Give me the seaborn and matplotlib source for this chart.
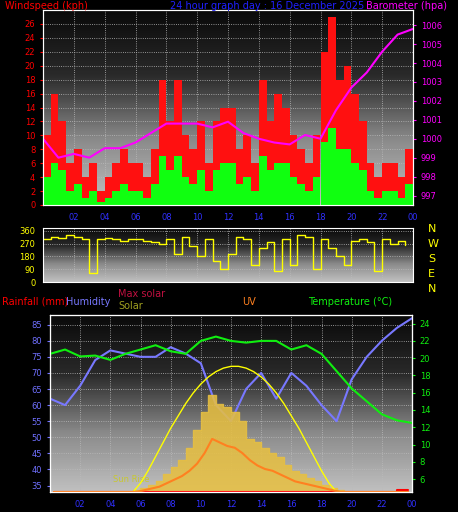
import numpy as np
import matplotlib
matplotlib.use("Agg")
import matplotlib.pyplot as plt
import seaborn as sns
from matplotlib.colors import LinearSegmentedColormap

sns.set_style("dark")
plt.rcParams['font.family'] = ['DejaVu Sans']

half_hours = [i * 0.5 for i in range(48)]
gust = [10,16,12,6,8,4,6,2,4,6,8,6,6,4,8,18,12,18,10,8,12,6,12,14,
        14,8,10,6,18,12,16,14,10,8,6,10,22,27,18,20,16,12,6,4,6,6,4,8]
avg = [4,6,5,2,3,1,2,0.5,1,2,3,2,2,1,3,7,5,7,4,3,5,2,5,6,
       6,3,4,2,7,5,6,6,4,3,2,4,9,11,8,8,6,5,2,1,2,2,1,3]
hours = list(range(25))
baro = [1000.0,999.0,999.2,999.0,999.5,999.5,999.8,1000.3,1000.8,1000.8,1000.8,1000.6,
        1000.9,1000.3,1000.0,999.8,999.7,1000.2,1000.0,1001.5,1002.7,1003.5,1004.6,1005.5,1005.8]
direction = [300,320,310,330,320,300,60,300,310,300,290,300,300,290,280,270,300,200,320,250,
             180,300,150,90,200,320,300,120,240,280,80,300,120,330,320,90,300,240,180,120,
             290,300,280,80,300,270,290,260]
temp = [20.5,21,20.2,20.3,19.8,20.5,21,21.5,20.8,20.5,22,22.5,22,21.8,22,22,21,21.5,
        20.5,18.5,16.5,15,13.5,12.8,12.5]
humidity = [62,60,66,74,77,76,75,75,78,76,73,60,55,65,70,62,70,66,60,55,68,75,80,84,87]
solar = [0,0,0,0,0,0,0,0,0,0,0,1,2,4,6,10,14,18,25,35,45,55,50,48,
         45,40,30,28,25,22,20,15,12,10,8,6,4,2,1,0,0,0,0,0,0,0,0,0]
uv = [0,0,0,0,0,0,0,0,0,0,0,0,1,2,3,5,7,9,12,16,22,30,28,26,
      25,22,18,15,13,12,10,8,6,5,4,3,2,1,0,0,0,0,0,0,0,0,0,0]
rain = [0]*46 + [1, 1]

fig = plt.figure(figsize=(4.58, 5.12), dpi=100, facecolor='black')
cmap = LinearSegmentedColormap.from_list('bg', ['#0a0a0a', '#2a2a2a', '#8a8a8a', '#c0c0c0'])
grad = np.linspace(0, 1, 100).reshape(-1, 1)

def style(ax):
    ax.set_facecolor('black')
    ax.imshow(grad, extent=[0, 1, 0, 1], transform=ax.transAxes, aspect='auto',
              cmap=cmap, origin='upper', zorder=0)
    ax.grid(True, color='#bbbbbb', linestyle=':', linewidth=0.6)
    for s in ax.spines.values():
        s.set_color('white')
    ax.set_xlim(0, 24)
    ax.tick_params(labelsize=6, length=2)

xt = list(range(2, 25, 2))
xl = ['%02d' % (h % 24) for h in xt]

# Panel 1: wind
ax1 = fig.add_axes([43/458, 1-205/512, 370/458, 195/512])
style(ax1)
ax1.bar(half_hours, gust, width=0.5, align='edge', color='#ff1010', edgecolor='none', zorder=2)
ax1.bar(half_hours, avg, width=0.5, align='edge', color='#10ff10', edgecolor='none', zorder=3)
ax1.set_ylim(0, 28)
ax1.set_yticks(range(0, 27, 2))
ax1.tick_params(axis='y', colors='red')
ax1.set_xticks(xt)
ax1.set_xticklabels(xl, color='#3030ff')
ax1b = ax1.twinx()
sns.lineplot(x=hours, y=baro, ax=ax1b, color='magenta', linewidth=1.5)
ax1b.set_ylim(996.5, 1006.8)
ax1b.set_yticks(range(997, 1007))
ax1b.tick_params(axis='y', colors='magenta', labelsize=6, length=2)
ax1b.grid(False)
fig.text(5/458, 1-9/512, 'Windspeed (kph)', color='red', fontsize=7)
fig.text(170/458, 1-9/512, '24 hour graph day : 16 December 2025', color='#2020ff', fontsize=7)
fig.text(366/458, 1-9/512, 'Barometer (hpa)', color='magenta', fontsize=7)

# Panel 2: direction
ax2 = fig.add_axes([43/458, 1-282/512, 370/458, 54/512])
style(ax2)
ax2.step(half_hours, direction, where='post', color='yellow', linewidth=1)
ax2.set_ylim(0, 380)
ax2.set_yticks([0, 90, 180, 270, 360])
ax2.tick_params(axis='y', colors='yellow')
ax2.set_xticks(xt)
ax2.set_xticklabels([])
for lab, y in zip(['N', 'W', 'S', 'E', 'N'], [232, 247, 262, 277, 292]):
    fig.text(428/458, 1-y/512, lab, color='yellow', fontsize=8)

# Panel 3
ax3 = fig.add_axes([50/458, 1-492/512, 362/458, 177/512])
style(ax3)
ax3.set_ylim(33, 88)
ax3.set_yticks(range(35, 90, 5))
ax3.tick_params(axis='y', colors='#7070ff')
ax3.set_xticks(xt)
ax3.set_xticklabels(xl, color='#3030ff')
ax3s = ax3.twinx()
ax3s.set_ylim(0, 100)
ax3s.set_yticks([])
x_half = np.array(half_hours) + 0.25
ax3s.fill_between(x_half, solar, step='mid', color='#e8c040', alpha=0.85, zorder=2)
ax3s.plot(x_half, uv, color='#ff8020', linewidth=1.5, zorder=3)
ms_h = np.array([h / 2 for h in range(11, 43)])
ms = [0,5,12,20,28,36,43,50,56,61,65,68,70,71,71,70,68,65,61,56,50,43,36,28,20,12,5,0,0,0,0,0][:len(ms_h)]
ax3s.plot(ms_h, ms, color='yellow', linewidth=1)
ax3s.step(x_half, rain, where='mid', color='red', linewidth=1.5)
sns.lineplot(x=hours, y=humidity, ax=ax3, color='#7878ff', linewidth=1.5, zorder=4)
ax3t = ax3.twinx()
sns.lineplot(x=hours, y=temp, ax=ax3t, color='#10ee10', linewidth=1.5)
ax3t.set_ylim(4.5, 25)
ax3t.set_yticks(range(6, 25, 2))
ax3t.tick_params(axis='y', colors='#10ee10', labelsize=6, length=2)
ax3t.grid(False)
ax3s.grid(False)
ax3.text(4.2, 36, 'Sun Rise', color='#c8c830', fontsize=6)
fig.text(2/458, 1-305/512, 'Rainfall (mm)', color='red', fontsize=7)
fig.text(66/458, 1-305/512, 'Humidity', color='#7878ff', fontsize=7)
fig.text(118/458, 1-297/512, 'Max solar', color='#c01040', fontsize=7)
fig.text(118/458, 1-309/512, 'Solar', color='#a0a020', fontsize=7)
fig.text(242/458, 1-305/512, 'UV', color='#ff8020', fontsize=7)
fig.text(308/458, 1-305/512, 'Temperature (°C)', color='#10ee10', fontsize=7)

fig.savefig('out.png', dpi=100, facecolor='black')
